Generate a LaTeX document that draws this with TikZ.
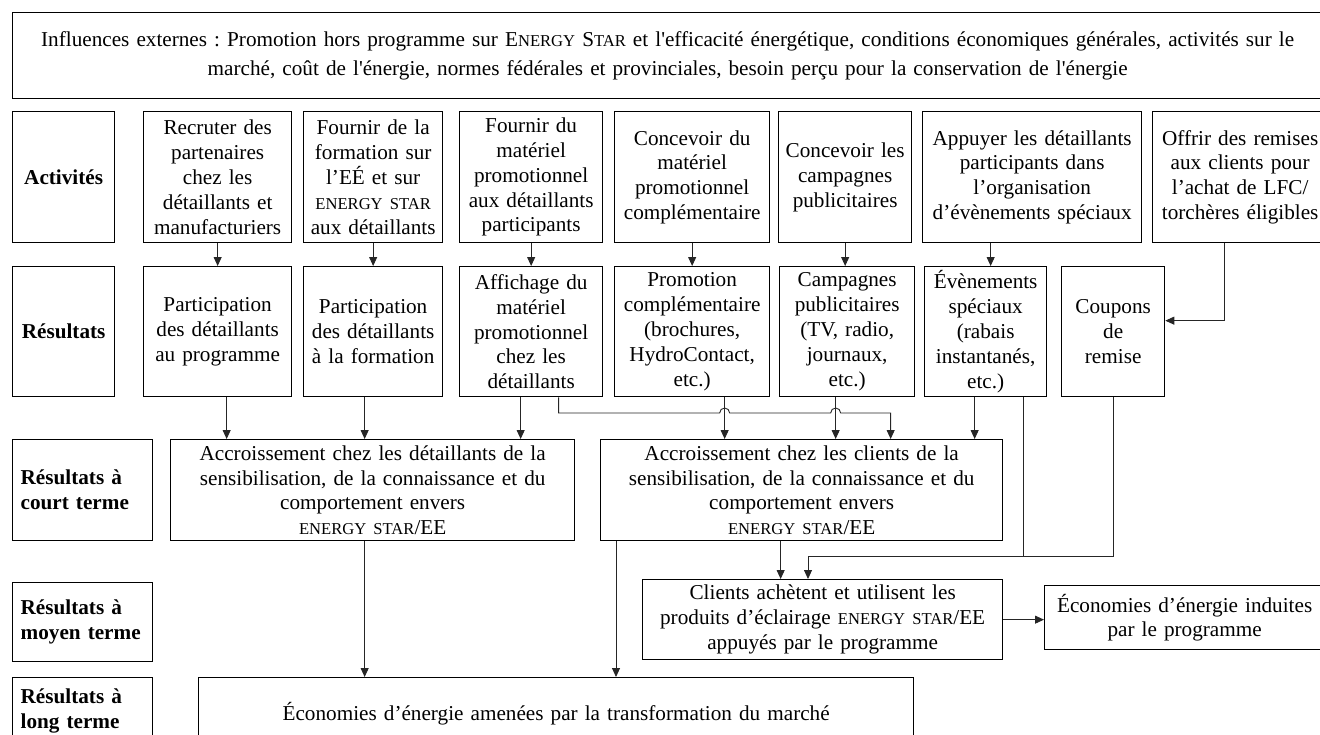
\documentclass[tikz,border=0pt]{standalone}
\usepackage{fontspec}
\setmainfont{Liberation Serif}
\usepackage{tikz}
\usetikzlibrary{arrows.meta}

\newcommand{\sm}[1]{{\fontsize{8.3pt}{10pt}\selectfont #1}}
\newcommand{\enstar}{\sm{ENERGY STAR}}
\frenchspacing

\begin{document}
\begin{tikzpicture}[
x=0.5pt, y=-0.5pt,
every node/.style={font=\fontsize{10.6pt}{12.4pt}\selectfont},
boxnode/.style={rectangle, draw=black, line width=0.65pt, anchor=north west,
align=center, inner sep=0pt},
actnode/.style={boxnode, minimum height=65.5pt},
resnode/.style={boxnode, minimum height=65pt},
labnode/.style={boxnode, font=\fontsize{10.6pt}{12.4pt}\selectfont\bfseries},
termnode/.style={labnode, align=left, inner xsep=4pt, text width=62pt},
arrownode/.style={-{Triangle[length=4.5pt, width=4pt]}, line width=0.45pt, black!85},
linenode/.style={line width=0.45pt, black!85}
]

\useasboundingbox (0,0) rectangle (1320,734);
\clip (0,0) rectangle (1320,734);

\node[boxnode, text width=655pt, minimum height=43pt, font=\fontsize{10.6pt}{14.5pt}\selectfont] (infl) at (12,12) {Influences externes : Promotion hors programme sur E\sm{NERGY} S\sm{TAR} et l\textquotesingle efficacité énergétique, conditions économiques générales, activités sur le\\ marché, coût de l\textquotesingle énergie, normes fédérales et provinciales, besoin perçu pour la conservation de l\textquotesingle énergie};

\node[labnode, text width=51pt, minimum height=65.5pt] (act) at (12,111) {Activités};
\node[actnode, text width=74pt] (recruit) at (143,111) {Recruter des\\ partenaires\\ chez les\\ détaillants et\\ manufacturiers};
\node[actnode, text width=69.5pt] (train) at (303,111) {Fournir de la\\ formation sur\\ l’EÉ et sur\\ \enstar\\ aux détaillants};
\node[actnode, text width=71.5pt] (supply) at (459,111) {Fournir du\\ matériel\\ promotionnel\\ aux détaillants\\ participants};
\node[actnode, text width=77.5pt] (design) at (614,111) {Concevoir du\\ matériel\\ promotionnel\\ complémentaire};
\node[actnode, text width=66.5pt] (campaign) at (778,111) {Concevoir les\\ campagnes\\ publicitaires};
\node[actnode, text width=109.5pt] (support) at (922,111) {Appuyer les détaillants\\ participants dans\\ l’organisation\\ d’évènements spéciaux};
\node[actnode, text width=87.5pt] (rebate) at (1152,111) {Offrir des remises\\ aux clients pour\\ l’achat de LFC/\\ torchères éligibles};

\node[labnode, text width=51pt, minimum height=65pt] (res) at (12,266) {Résultats};
\node[resnode, text width=74pt] (partprog) at (143,266) {Participation\\ des détaillants\\ au programme};
\node[resnode, text width=69.5pt] (partform) at (303,266) {Participation\\ des détaillants\\ à la formation};
\node[resnode, text width=71.5pt] (display) at (459,266) {Affichage du\\ matériel\\ promotionnel\\ chez les\\ détaillants};
\node[resnode, text width=77.5pt] (promo) at (614,266) {Promotion\\ complémentaire\\ (brochures,\\ HydroContact,\\ etc.)};
\node[resnode, text width=67.5pt] (ads) at (779,266) {Campagnes\\ publicitaires\\ (TV, radio,\\ journaux,\\ etc.)};
\node[resnode, text width=61pt] (events) at (924,266) {Évènements\\ spéciaux\\ (rabais\\ instantanés,\\ etc.)};
\node[resnode, text width=51.5pt] (coupons) at (1061,266) {Coupons\\ de\\ remise};

\node[termnode, minimum height=50.5pt] (shortlab) at (12,439) {Résultats à\\ court terme};
\node[boxnode, text width=202pt, minimum height=50.5pt] (retail) at (170,439) {Accroissement chez les détaillants de la\\ sensibilisation, de la connaissance et du\\ comportement envers\\ \enstar/EE};
\node[boxnode, text width=201pt, minimum height=50.5pt] (client) at (600,439) {Accroissement chez les clients de la\\ sensibilisation, de la connaissance et du\\ comportement envers\\ \enstar/EE};

\node[termnode, minimum height=39.5pt] (midlab) at (12,582) {Résultats à\\ moyen terme};
\node[boxnode, text width=180pt, minimum height=40pt] (buy) at (642,579) {Clients achètent et utilisent les\\ produits d’éclairage \enstar/EE\\ appuyés par le programme};
\node[boxnode, text width=140pt, minimum height=32pt] (induced) at (1044,585) {Économies d’énergie induites\\ par le programme};

\node[termnode, minimum height=33pt] (longlab) at (12,677) {Résultats à\\ long terme};
\node[boxnode, text width=357.5pt, minimum height=36pt] (market) at (198,677) {Économies d’énergie amenées par la transformation du marché};

\coordinate (hop) at (0,413);
\coordinate (join) at (808,556);

\draw[arrownode] (recruit) -- (partprog);
\draw[arrownode] (train) -- (partform);
\draw[arrownode] (supply) -- (display);
\draw[arrownode] (design) -- (promo);
\draw[arrownode] (campaign.south) -- (campaign.south |- ads.north);
\draw[arrownode] ([xshift=2.5pt]events.north |- support.south) -- ([xshift=2.5pt]events.north);
\draw[arrownode] ([xshift=-7.75pt]rebate.south) |- ([yshift=5.5pt]coupons.east);

\draw[arrownode] ([xshift=4.5pt]partprog.south) -- ([xshift=4.5pt]partprog.south |- retail.north);
\draw[arrownode] ([xshift=-4.25pt]partform.south) -- ([xshift=-4.25pt]partform.south |- retail.north);
\draw[arrownode] ([xshift=-5.25pt]display.south) -- ([xshift=-5.25pt]display.south |- retail.north);
\draw[arrownode] ([xshift=13.75pt]display.south) -- ([xshift=13.75pt]display.south |- hop)
  -- ([xshift=13.75pt]promo.south |- hop) arc[start angle=180, end angle=0, radius=2.5pt]
  -- ([xshift=-8.25pt]ads.south |- hop) arc[start angle=180, end angle=0, radius=2.5pt]
  -- ([xshift=44.5pt]client.north |- hop) -- ([xshift=44.5pt]client.north);
\draw[arrownode] ([xshift=16.25pt]promo.south) -- ([xshift=16.25pt]promo.south |- client.north);
\draw[arrownode] ([xshift=-5.75pt]ads.south) -- ([xshift=-5.75pt]ads.south |- client.north);
\draw[arrownode] ([xshift=-5.5pt]events.south) -- ([xshift=-5.5pt]events.south |- client.north);

\draw[linenode] ([xshift=19pt]events.south) -- ([xshift=19pt]events.south |- join);
\draw[arrownode] (coupons.south) |- (join) -- (join |- buy.north);
\draw[arrownode] ([xshift=-10.5pt]client.south) -- ([xshift=-10.5pt]client.south |- buy.north);
\draw[arrownode] ([xshift=8pt]client.south west) -- ([xshift=8pt]client.south west |- market.north);
\draw[arrownode] ([xshift=-4pt]retail.south) -- ([xshift=-4pt]retail.south |- market.north);
\draw[arrownode] (buy.east) -- (buy.east -| induced.west);

\end{tikzpicture}
\end{document}
